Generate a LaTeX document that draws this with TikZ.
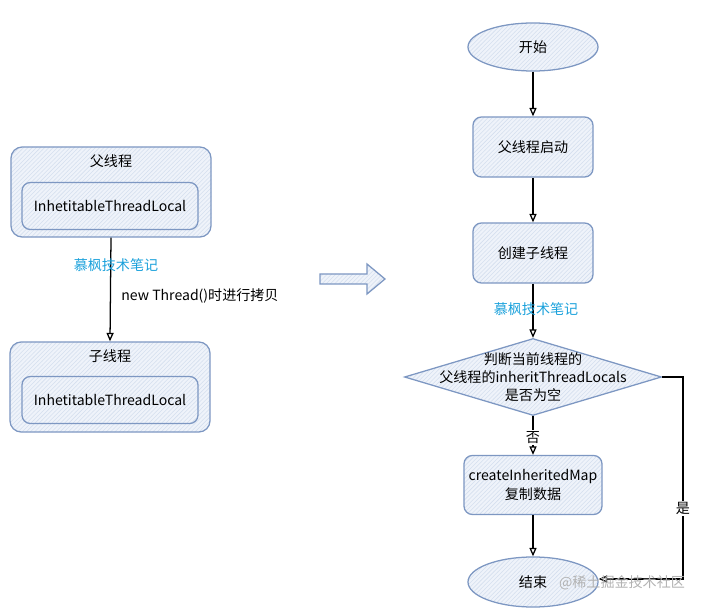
\documentclass[tikz,border=0pt]{standalone}
\usepackage{fontspec}
\setmainfont{Noto Sans CJK SC}
\usetikzlibrary{shapes}
\usetikzlibrary{positioning}
\usetikzlibrary{arrows.meta}
\usetikzlibrary{patterns}
\definecolor{boxline}{HTML}{7D97C2}
\definecolor{boxfill}{HTML}{EFF3FA}
\definecolor{hatchc}{HTML}{D5DFEE}
\definecolor{notec}{HTML}{1BA1DB}
\tikzset{
    sketch/.style = {line width=0.9pt, draw=boxline, preaction={fill=boxfill}, pattern=north east lines, pattern color=hatchc},
    outerbox/.style = {rectangle, sketch, rounded corners=8pt, minimum width=5cm, minimum height=2.25cm},
    innerbox/.style = {rectangle, sketch, rounded corners=6pt, minimum width=4.4cm, minimum height=1.175cm},
    stepbox/.style = {rectangle, sketch, rounded corners=6pt, align=center, minimum width=3cm, minimum height=1.5cm},
    mapbox/.style = {rectangle, sketch, rounded corners=6pt, align=center, minimum width=3.45cm, minimum height=1.475cm},
    terminal/.style = {ellipse, sketch, minimum width=3.25cm, minimum height=1.2cm},
    decision/.style = {diamond, sketch, inner sep=0pt, minimum width=6.425cm, minimum height=1.925cm},
    note/.style = {text=notec},
    edgen/.style = {-{Triangle[open,length=6pt,width=5pt]}, line width=0.9pt, black},
    bigarrow/.style = {line width=0.9pt, draw=boxline, preaction={fill=boxfill}, pattern=north east lines, pattern color=hatchc},
}

\begin{document}
\begin{tikzpicture}[x=0.025cm, y=-0.025cm, font=\fontsize{10}{13}\selectfont]
\useasboundingbox (0,0) rectangle (705,610);
% left: threads
\node[outerbox] at (111, 192) (pt) {};
\node at (111, 161) (ptl) {父线程};
\node[innerbox] at (110, 206) (pti) {InhetitableThreadLocal};
\node[outerbox] at (110, 387) (ct) {};
\node at (110, 356) (ctl) {子线程};
\node[innerbox] at (110, 400) (cti) {InhetitableThreadLocal};
%
\draw[edgen] (pt.south) -- node[right, pos=0.56, xshift=4pt] {new Thread()时进行拷贝} (ct.north);
\node[note] at (116, 265) (n1) {慕枫技术笔记};
% middle arrow
\draw[bigarrow] (320,274) -- (367,274) -- (367,264) -- (385,279) -- (367,294) -- (367,284) -- (320,284) -- cycle;
% right: flow
\node[terminal] at (533, 47) (start) {开始};
\node[stepbox] at (533, 147) (s1) {父线程启动};
\node[stepbox] at (533, 253) (s2) {创建子线程};
\node[decision] at (533, 377) (dec) {};
\node[align=center] at (dec) (dect) {判断当前线程的\\父线程的inheritThreadLocals\\是否为空};
\node[mapbox] at (533, 485) (s3) {createInheritedMap\\复制数据};
\node[terminal, minimum height=1.25cm] at (533, 582) (stop) {结束};
\coordinate (c1) at (683, 377);
\coordinate (c2) at (683, 579);
%
\draw[edgen] (start) -- (s1);
\draw[edgen] (s1) -- (s2);
\draw[edgen] (s2) -- (dec);
\draw[edgen] (dec) -- node[fill=white, inner sep=1pt, pos=0.55] {否} (s3);
\draw[edgen] (s3) -- (stop);
\draw[edgen] (dec.east) -- (c1) -- node[fill=white, inner sep=1pt, pos=0.65] {是} (c2) -- (stop.east |- c2);
\node[note] at (536, 309) (n2) {慕枫技术笔记};
\node[text=black!30] at (622, 583) (wm) {@稀土掘金技术社区};
\end{tikzpicture}
\end{document}
